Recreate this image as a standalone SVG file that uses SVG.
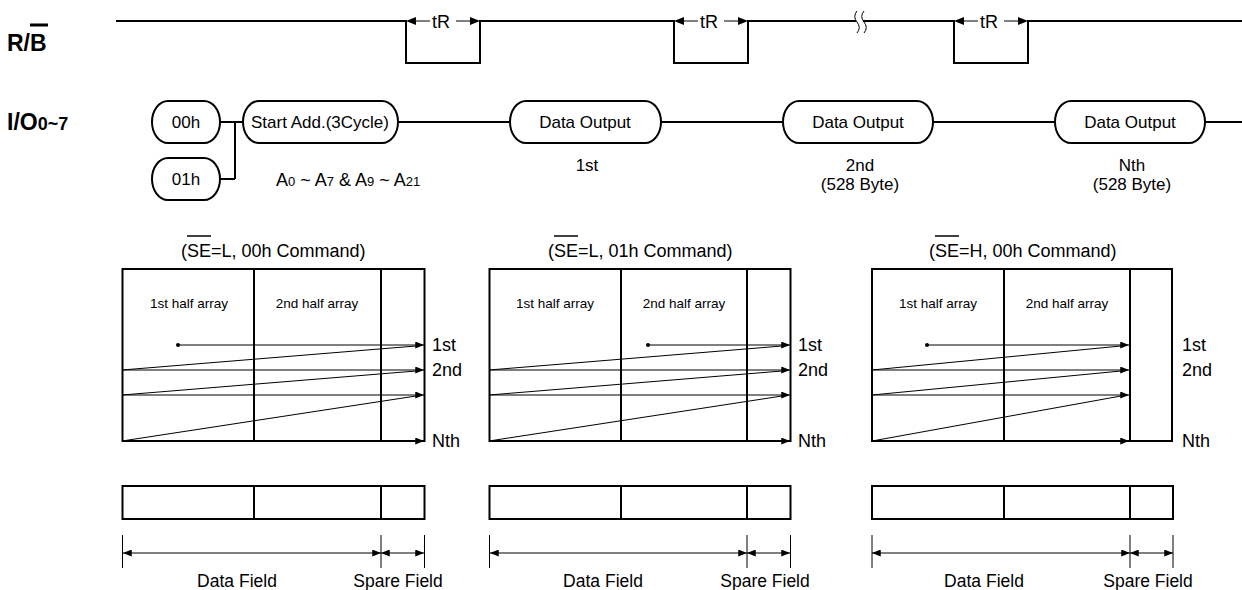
<svg xmlns="http://www.w3.org/2000/svg" width="1242" height="590" viewBox="0 0 1242 590">
<style>
text{font-family:"Liberation Sans",Arial,sans-serif;fill:#000}
.lbl{font-weight:bold}
.nt{font-size:17px;text-anchor:middle}
.ttl{font-size:18px}
.ha{font-size:13.5px;text-anchor:middle}
.side{font-size:18px}
.fld{font-size:17.5px;text-anchor:middle}
.thick{fill:none;stroke:#000;stroke-width:2}
.thin{fill:none;stroke:#000;stroke-width:1}
.node{fill:#fff;stroke:#000;stroke-width:2}
</style>
<defs>
<marker id="ah" viewBox="0 0 10 8" refX="10" refY="4" markerWidth="10" markerHeight="7" markerUnits="userSpaceOnUse" orient="auto-start-reverse">
<path d="M0,0 L10,4 L0,8 z" fill="#000"/>
</marker>
</defs>

<g id="labels">
<text class="lbl" x="7" y="51" font-size="23">R/B</text>
<line x1="30" y1="25" x2="48" y2="25" stroke="#000" stroke-width="3"/>
<text class="lbl" x="7" y="130" font-size="23">I/O<tspan font-size="18">0~7</tspan></text>
</g>

<g id="rb-signal">
<path class="thick" d="M116,21 H406 V63 H480 V21 H674 V63 H748 V21 H856 M863,21 H954 V63 H1028 V21 H1242"/>
<path class="thin" d="M857,11 q-4.5,5.5 0,11 q4.5,5.5 0,11 M864,11 q-4.5,5.5 0,11 q4.5,5.5 0,11" stroke-width="1.6"/>
<g id="tr1">
<line class="thin" x1="414" y1="21" x2="430" y2="21"/><polygon points="406,21 416,17 416,25"/>
<text x="432" y="28" font-size="18">tR</text>
<line class="thin" x1="456" y1="21" x2="470" y2="21"/><polygon points="480,21 470,17 470,25"/>
</g>
<g id="tr2">
<line class="thin" x1="682" y1="21" x2="698" y2="21"/><polygon points="674,21 684,17 684,25"/>
<text x="700" y="28" font-size="18">tR</text>
<line class="thin" x1="724" y1="21" x2="738" y2="21"/><polygon points="748,21 738,17 738,25"/>
</g>
<g id="tr3">
<line class="thin" x1="962" y1="21" x2="978" y2="21"/><polygon points="954,21 964,17 964,25"/>
<text x="980" y="28" font-size="18">tR</text>
<line class="thin" x1="1004" y1="21" x2="1018" y2="21"/><polygon points="1028,21 1018,17 1018,25"/>
</g>
</g>

<g id="connectors">
<path class="thick" d="M220,122 H243 M235,122 V179 M220,179 H235 M398,122 H510 M661,122 H783 M933,122 H1055 M1205,122 H1242"/>
</g>

<g id="n00h"><rect class="node" x="152" y="101" width="68" height="42" rx="16" ry="21"/><text class="nt" x="186" y="128">00h</text></g>
<g id="n01h"><rect class="node" x="152" y="158" width="68" height="42" rx="16" ry="21"/><text class="nt" x="186" y="185">01h</text></g>
<g id="nstart"><rect class="node" x="243" y="101" width="155" height="42" rx="16" ry="21"/><text class="nt" x="320" y="128">Start Add.(3Cycle)</text></g>
<g id="ndo1"><rect class="node" x="510" y="101" width="151" height="42" rx="16" ry="21"/><text class="nt" x="585" y="128">Data Output</text></g>
<g id="ndo2"><rect class="node" x="783" y="101" width="150" height="42" rx="16" ry="21"/><text class="nt" x="858" y="128">Data Output</text></g>
<g id="ndo3"><rect class="node" x="1055" y="101" width="150" height="42" rx="16" ry="21"/><text class="nt" x="1130" y="128">Data Output</text></g>

<g id="row-notes">
<text x="276" y="186" font-size="18">A<tspan font-size="13">0</tspan> ~ A<tspan font-size="13">7</tspan> &amp; A<tspan font-size="13">9</tspan> ~ A<tspan font-size="13">21</tspan></text>
<text class="nt" x="587" y="171">1st</text>
<text class="nt" x="860" y="171">2nd</text>
<text class="nt" x="860" y="190">(528 Byte)</text>
<text class="nt" x="1132" y="171">Nth</text>
<text class="nt" x="1132" y="190">(528 Byte)</text>
</g>

<g id="panel1">
<text class="ttl" x="181" y="257">(SE=L, 00h Command)</text>
<line x1="187" y1="236" x2="211" y2="236" stroke="#000" stroke-width="1.5"/>
<rect class="thick" x="122.5" y="269" width="302" height="172"/>
<path class="thick" d="M254,269 V441 M381,269 V441"/>
<text class="ha" x="189" y="308">1st half array</text>
<text class="ha" x="317" y="308">2nd half array</text>
<circle cx="178" cy="345" r="2"/>
<g class="thin">
<line x1="178" y1="345" x2="424" y2="345" marker-end="url(#ah)"/>
<line x1="122" y1="370" x2="424" y2="370" marker-end="url(#ah)"/>
<line x1="122" y1="395" x2="424" y2="395" marker-end="url(#ah)"/>
<line x1="122" y1="441" x2="424" y2="441" marker-end="url(#ah)"/>
<line x1="122" y1="370" x2="416" y2="346"/>
<line x1="122" y1="395" x2="416" y2="371"/>
<line x1="122" y1="441" x2="416" y2="396"/>
</g>
<text class="side" x="432" y="351">1st</text>
<text class="side" x="432" y="376">2nd</text>
<text class="side" x="432" y="447">Nth</text>
<rect class="thick" x="122.5" y="486" width="302" height="33"/>
<path class="thick" d="M254,486 V519 M381,486 V519"/>
<path class="thin" d="M122.5,535 V568 M381,535 V568 M424.5,535 V568"/>
<line class="thin" x1="123" y1="553" x2="381" y2="553" marker-start="url(#ah)" marker-end="url(#ah)"/>
<line class="thin" x1="381" y1="553" x2="424" y2="553" marker-start="url(#ah)" marker-end="url(#ah)"/>
<text class="fld" x="237" y="587">Data Field</text>
<text class="fld" x="398" y="587">Spare Field</text>
</g>

<g id="panel2">
<text class="ttl" x="548" y="257">(SE=L, 01h Command)</text>
<line x1="554" y1="236" x2="578" y2="236" stroke="#000" stroke-width="1.5"/>
<rect class="thick" x="489.5" y="269" width="301" height="172"/>
<path class="thick" d="M621,269 V441 M747,269 V441"/>
<text class="ha" x="555" y="308">1st half array</text>
<text class="ha" x="684" y="308">2nd half array</text>
<circle cx="648" cy="345" r="2"/>
<g class="thin">
<line x1="648" y1="345" x2="790" y2="345" marker-end="url(#ah)"/>
<line x1="489" y1="370" x2="790" y2="370" marker-end="url(#ah)"/>
<line x1="489" y1="395" x2="790" y2="395" marker-end="url(#ah)"/>
<line x1="489" y1="441" x2="790" y2="441" marker-end="url(#ah)"/>
<line x1="489" y1="370" x2="782" y2="346"/>
<line x1="489" y1="395" x2="782" y2="371"/>
<line x1="489" y1="441" x2="782" y2="396"/>
</g>
<text class="side" x="798" y="351">1st</text>
<text class="side" x="798" y="376">2nd</text>
<text class="side" x="798" y="447">Nth</text>
<rect class="thick" x="489.5" y="486" width="301" height="33"/>
<path class="thick" d="M621,486 V519 M747,486 V519"/>
<path class="thin" d="M489.5,535 V568 M747,535 V568 M790.5,535 V568"/>
<line class="thin" x1="490" y1="553" x2="747" y2="553" marker-start="url(#ah)" marker-end="url(#ah)"/>
<line class="thin" x1="747" y1="553" x2="790" y2="553" marker-start="url(#ah)" marker-end="url(#ah)"/>
<text class="fld" x="603" y="587">Data Field</text>
<text class="fld" x="765" y="587">Spare Field</text>
</g>

<g id="panel3">
<text class="ttl" x="929" y="257">(SE=H, 00h Command)</text>
<line x1="935" y1="236" x2="959" y2="236" stroke="#000" stroke-width="1.5"/>
<rect class="thick" x="872" y="269" width="300" height="172"/>
<path class="thick" d="M1004,269 V441 M1130,269 V441"/>
<text class="ha" x="938" y="308">1st half array</text>
<text class="ha" x="1067" y="308">2nd half array</text>
<circle cx="927" cy="345" r="2"/>
<g class="thin">
<line x1="927" y1="345" x2="1129" y2="345" marker-end="url(#ah)"/>
<line x1="872" y1="370" x2="1129" y2="370" marker-end="url(#ah)"/>
<line x1="872" y1="395" x2="1129" y2="395" marker-end="url(#ah)"/>
<line x1="872" y1="441" x2="1129" y2="441" marker-end="url(#ah)"/>
<line x1="872" y1="370" x2="1121" y2="346"/>
<line x1="872" y1="395" x2="1121" y2="371"/>
<line x1="872" y1="441" x2="1121" y2="396"/>
</g>
<text class="side" x="1182" y="351">1st</text>
<text class="side" x="1182" y="376">2nd</text>
<text class="side" x="1182" y="447">Nth</text>
<rect class="thick" x="872" y="486" width="301" height="33"/>
<path class="thick" d="M1004,486 V519 M1130,486 V519"/>
<path class="thin" d="M872,535 V568 M1130,535 V568 M1173,535 V568"/>
<line class="thin" x1="872" y1="553" x2="1130" y2="553" marker-start="url(#ah)" marker-end="url(#ah)"/>
<line class="thin" x1="1130" y1="553" x2="1173" y2="553" marker-start="url(#ah)" marker-end="url(#ah)"/>
<text class="fld" x="984" y="587">Data Field</text>
<text class="fld" x="1148" y="587">Spare Field</text>
</g>
</svg>
